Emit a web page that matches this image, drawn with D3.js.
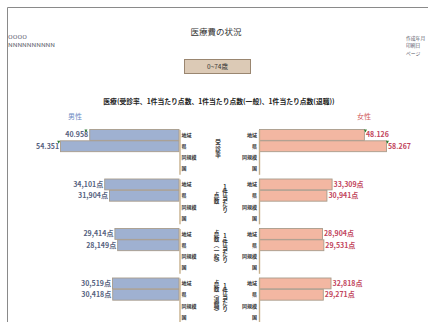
<!DOCTYPE html>
<html><head><meta charset="utf-8">
<script src="https://cdn.jsdelivr.net/npm/d3@7/dist/d3.min.js"></script>
<style>
body{margin:0;background:#fff}
svg{display:block;font-family:"Noto Sans CJK JP","Noto Sans",sans-serif}
.vt{writing-mode:vertical-rl;text-orientation:upright}
</style>
</head><body><svg id="c" width="428" height="322"></svg>
<script>
// ---- data ----
const groups = ["受診率", "1件当たり点数", "1件当たり点数(一般)", "1件当たり点数(退職)"];
const groupColumns = [["受診率"], ["1件当たり", "点数"], ["1件当たり", "点数(一般)"], ["1件当たり", "点数(退職)"]];
const rows = ["地域", "県", "同規模", "国"];
const maleValues = [[40.958, 54.351], [34101, 31904], [29414, 28149], [30519, 30418]];
const femaleValues = [[48.126, 58.267], [33309, 30941], [28904, 29531], [32818, 29271]];
const maleMarkers = [42.7, 55.2];
const femaleMarkers = [48.6, 58.7];
const rateDomain = [0, 78];
const pointDomain = [0, 78000];
const titleText = "医療費の状況";
const ageLabel = "0~74歳";
const subtitleText = "医療(受診率、1件当たり点数、1件当たり点数(一般)、1件当たり点数(退職))";
const maleLabel = "男性", femaleLabel = "女性";
const headerLeft = ["0000", "NNNNNNNNNN"];
const headerRight = ["作成年月", "印刷日", "ページ"];

// ---- drawing ----
const svg = d3.select("#c");
svg.append("rect").attr("width", 428).attr("height", 322).attr("fill", "#fff");
svg.append("path").attr("d", "M7.5,322V7.5H428").attr("fill", "none").attr("stroke", "#8a8a8a").attr("stroke-width", 1);

svg.append("text").attr("x", 216).attr("y", 35).attr("text-anchor", "middle")
  .attr("font-size", 8.5).attr("fill", "#333").text(titleText);

svg.append("rect").attr("x", 184.5).attr("y", 59.5).attr("width", 66).attr("height", 14)
  .attr("fill", "#dccab6").attr("stroke", "#9a8670").attr("stroke-width", 1);
svg.append("text").attr("x", 217.5).attr("y", 69).attr("text-anchor", "middle")
  .attr("font-size", 6.5).attr("fill", "#333").text(ageLabel);

svg.append("text").attr("x", 219).attr("y", 103.5).attr("text-anchor", "middle")
  .attr("font-size", 6.8).attr("font-weight", "bold").attr("fill", "#222").text(subtitleText);

headerLeft.forEach((t, i) => svg.append("text").attr("x", 8).attr("y", 39 + i * 8)
  .attr("font-size", 4.5).attr("fill", i ? "#556" : "#778").attr("textLength", i ? 47 : 19)
  .attr("lengthAdjust", "spacingAndGlyphs").text(t));
headerRight.forEach((t, i) => svg.append("text").attr("x", 406).attr("y", 39.5 + i * 7.5)
  .attr("font-size", 4.8).attr("fill", "#556").text(t));

svg.append("text").attr("x", 75).attr("y", 119).attr("text-anchor", "middle")
  .attr("font-size", 7).attr("fill", "#6a8ac4").text(maleLabel);
svg.append("text").attr("x", 364).attr("y", 119).attr("text-anchor", "middle")
  .attr("font-size", 7).attr("fill", "#d05a5a").text(femaleLabel);

const gStep = 49.5, gHeight = 44.8, top0 = 129.5;
const yGroup = d3.scaleBand().domain(groups)
  .range([top0, top0 + 3 * gStep + gHeight]).paddingInner(1 - gHeight / gStep).paddingOuter(0);
const yRow = d3.scaleBand().domain(rows).range([0, yGroup.bandwidth()]).paddingInner(0.04);

const leftAxisX = 179.5, rightAxisX = 259;
const xLeftR = d3.scaleLinear().domain(rateDomain).range([179, 9]);
const xRightR = d3.scaleLinear().domain(rateDomain).range([259.5, 429.5]);
const xLeftP = d3.scaleLinear().domain(pointDomain).range([179, 9]);
const xRightP = d3.scaleLinear().domain(pointDomain).range([259.5, 429.5]);
const fmtRate = d3.format(".3f"), fmtPt = d3.format(",");
const verticalForm = s => s.replace(/\(/g, "︵").replace(/\)/g, "︶");

groups.forEach((grp, gi) => {
  const gy = yGroup(grp);
  const g = svg.append("g").attr("transform", `translate(0,${gy})`);
  const xl = gi === 0 ? xLeftR : xLeftP;
  const xr = gi === 0 ? xRightR : xRightP;
  const fmt = v => gi === 0 ? fmtRate(v) : fmtPt(v) + "点";
  const mVals = maleValues[gi], fVals = femaleValues[gi];

  mVals.forEach((v, ri) => {
    const y = yRow(rows[ri]);
    g.append("rect").attr("x", xl(v)).attr("y", y).attr("width", xl(0) - xl(v)).attr("height", yRow.bandwidth())
      .attr("fill", "#9fb1d1").attr("stroke", "#a89c8c").attr("stroke-width", 0.9);
    g.append("text").attr("x", xl(v) - 1.5).attr("y", y + yRow.bandwidth() / 2 + 2.5)
      .attr("text-anchor", "end").attr("font-size", 7).attr("font-weight", "bold").attr("fill", "#566280").text(fmt(v));
  });
  fVals.forEach((v, ri) => {
    const y = yRow(rows[ri]);
    g.append("rect").attr("x", xr(0)).attr("y", y).attr("width", xr(v) - xr(0)).attr("height", yRow.bandwidth())
      .attr("fill", "#f3b7a2").attr("stroke", "#a89c8c").attr("stroke-width", 0.9);
    g.append("text").attr("x", xr(v) + 1.5).attr("y", y + yRow.bandwidth() / 2 + 2.5)
      .attr("font-size", 7).attr("font-weight", "bold").attr("fill", "#c2455c").text(fmt(v));
  });
  if (gi === 0) {
    maleMarkers.forEach((v, ri) => {
      const y = yRow(rows[ri]);
      g.append("path").attr("d", `M${xl(v)},${y + 3}l-1.5,-3h3z`).attr("fill", "#2e7d32");
    });
    femaleMarkers.forEach((v, ri) => {
      const y = yRow(rows[ri]);
      g.append("path").attr("d", `M${xr(v)},${y + 3}l-1.5,-3h3z`).attr("fill", "#2e7d32");
    });
  }

  const axL = g.append("g").attr("transform", `translate(${leftAxisX},0)`)
    .call(d3.axisRight(yRow).tickSize(0).tickSizeOuter(0).tickPadding(2));
  const axR = g.append("g").attr("transform", `translate(${rightAxisX},0)`)
    .call(d3.axisLeft(yRow).tickSize(0).tickSizeOuter(0).tickPadding(2));
  [axL, axR].forEach(ax => {
    ax.select(".domain").attr("stroke", "#c6b08c").attr("stroke-width", 1.4);
    ax.selectAll("text").attr("font-size", 5).attr("font-weight", "bold").attr("fill", "#333")
      .attr("font-family", '"Noto Sans CJK JP",sans-serif');
  });

  // central vertical group label (vertical writing, one text per column)
  const cols = groupColumns[gi];
  const cy = yGroup.bandwidth() / 2 - 3;
  cols.forEach((c, ci) => {
    const cx = cols.length === 1 ? 218 : (ci === 0 ? 225 : 216.5);
    g.append("text").attr("class", "vt").attr("x", cx).attr("y", cy)
      .attr("text-anchor", "middle").attr("font-size", 5.6).attr("font-weight", "bold")
      .attr("fill", "#333").style("letter-spacing", gi === 0 ? "1px" : "0.3px").text(verticalForm(c));
  });
});
</script>
</body></html>
